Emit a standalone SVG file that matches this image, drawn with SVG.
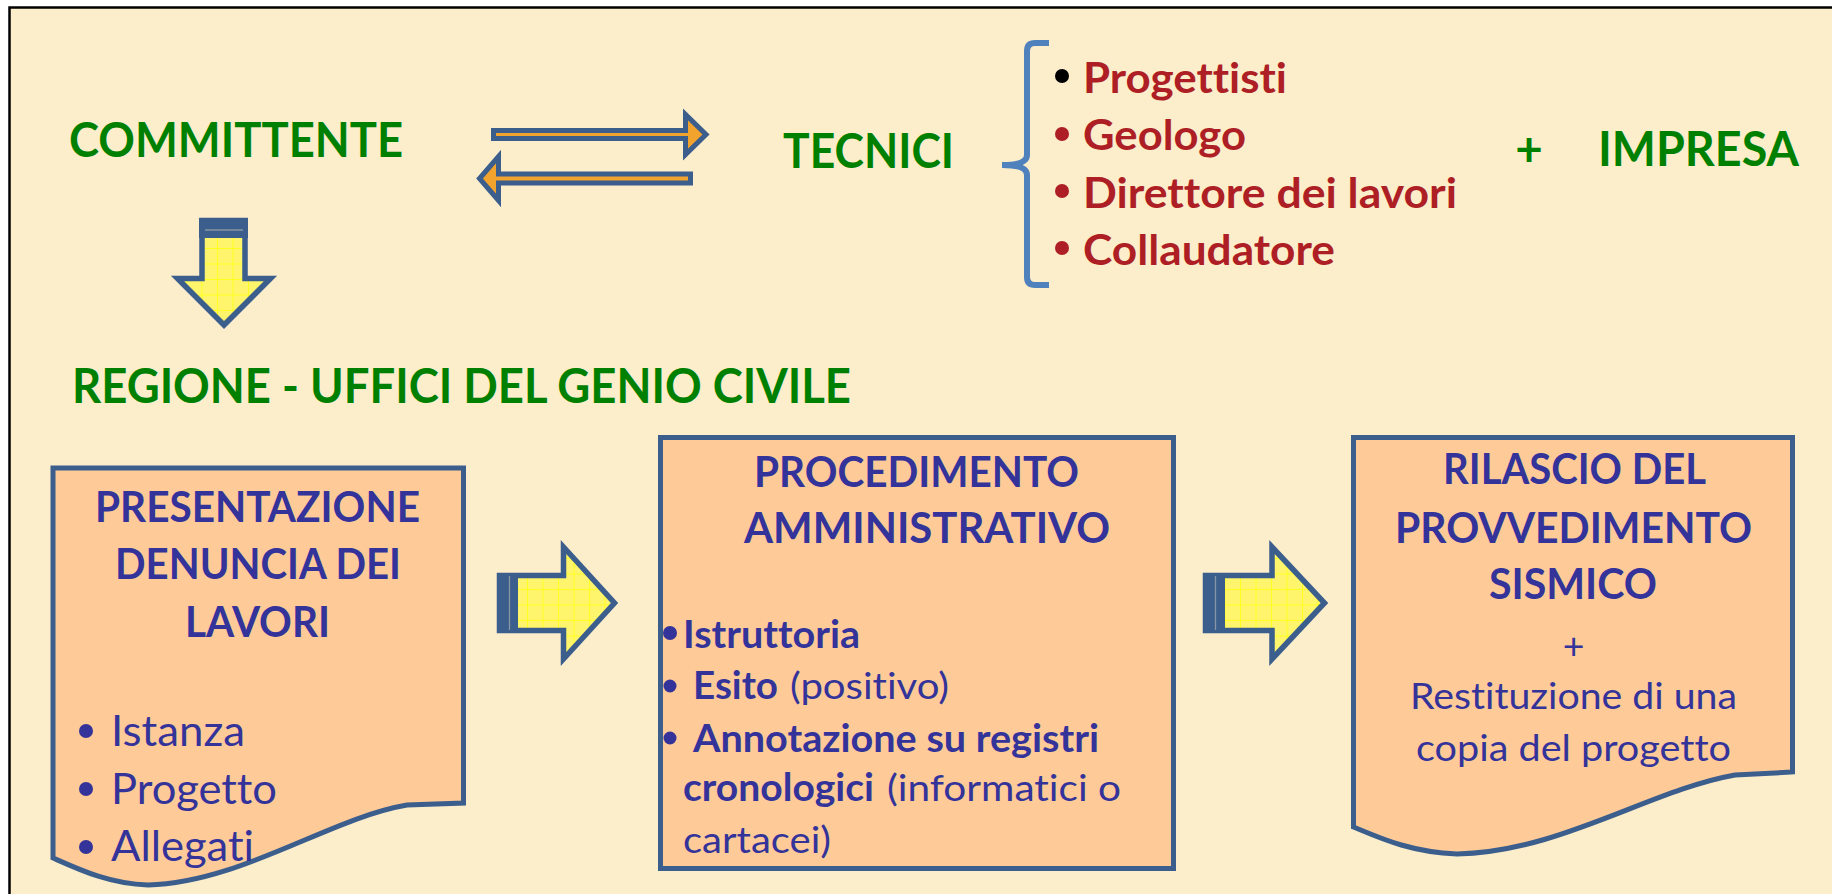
<svg xmlns="http://www.w3.org/2000/svg" width="1832" height="894" viewBox="0 0 1832 894">
<defs>
<style>
text{font-variant-ligatures:none;font-feature-settings:"liga" 0,"clig" 0,"dlig" 0}
.g{fill:#008000;font-family:Lato,"Liberation Sans",sans-serif;font-weight:700;font-size:47.5px}
.r{fill:#AD1F24;font-family:Lato,"Liberation Sans",sans-serif;font-weight:700;font-size:42px}
.h{fill:#333399;font-family:Lato,"Liberation Sans",sans-serif;font-weight:700;font-size:42px}
.n1{fill:#333399;font-family:Lato,"Liberation Sans",sans-serif;font-weight:400;font-size:42px}
.b2{fill:#333399;font-family:Lato,"Liberation Sans",sans-serif;font-weight:700;font-size:37.5px}
.n2{fill:#333399;font-family:Lato,"Liberation Sans",sans-serif;font-weight:400;font-size:37.5px}
.box{fill:#FECA98;stroke:#3B5E8C;stroke-width:5}
.dbl{fill:#F2A32E;stroke:#3B5E8C;stroke-width:5;stroke-linejoin:miter;stroke-miterlimit:10}
.yel{fill:url(#grid);stroke:#3B5E8C;stroke-width:5.5;stroke-linejoin:miter;stroke-miterlimit:10}
.stripe{fill:#3B5E8C}
.sline{stroke:#8796A2;stroke-width:1.3;fill:none}
.bd{fill:#333399}
</style>
<pattern id="grid" patternUnits="userSpaceOnUse" width="15.5" height="15.5">
<rect width="15.5" height="15.5" fill="#FFF56C"/>
<path d="M0,0.5H15.5M0.5,0V15.5" stroke="#FFFF1E" stroke-width="1"/>
</pattern>
</defs>
<rect x="0" y="0" width="1832" height="894" fill="#FFFFFF"/>
<rect x="9.5" y="7.5" width="1840" height="900" fill="#FCEDCB" stroke="#000000" stroke-width="2.5"/>

<g id="node-committente">
<text class="g" x="69" y="157" textLength="334" lengthAdjust="spacingAndGlyphs">COMMITTENTE</text>
</g>
<g id="node-tecnici">
<text class="g" x="783" y="168" textLength="171" lengthAdjust="spacingAndGlyphs">TECNICI</text>
</g>
<g id="node-tecnici-list">
<path d="M1049,43 H1035 Q1027,43 1027,51 V155 Q1027,165 1002,165 Q1027,165 1027,175 V277 Q1027,285 1035,285 H1049" fill="none" stroke="#4F81BD" stroke-width="6"/>
<circle cx="1062" cy="76" r="7" fill="#000000"/>
<circle cx="1062" cy="134" r="7" fill="#AD1F24"/>
<circle cx="1062" cy="191" r="7" fill="#AD1F24"/>
<circle cx="1062" cy="248" r="7" fill="#AD1F24"/>
<text class="r" x="1083" y="93" textLength="204" lengthAdjust="spacingAndGlyphs">Progettisti</text>
<text class="r" x="1083" y="150" textLength="163" lengthAdjust="spacingAndGlyphs">Geologo</text>
<text class="r" x="1083" y="208" textLength="374" lengthAdjust="spacingAndGlyphs">Direttore dei lavori</text>
<text class="r" x="1083" y="265" textLength="252" lengthAdjust="spacingAndGlyphs">Collaudatore</text>
</g>
<g id="node-impresa">
<text class="g" x="1529" y="166" text-anchor="middle">+</text>
<text class="g" x="1598" y="166" textLength="201" lengthAdjust="spacingAndGlyphs">IMPRESA</text>
</g>
<g id="node-regione">
<text class="g" x="72" y="403" textLength="779" lengthAdjust="spacingAndGlyphs">REGIONE - UFFICI DEL GENIO CIVILE</text>
</g>

<g id="node-presentazione">
<path class="box" d="M53,468 H463.5 V803 L407,805 C330,818 240,883 148,885 C110,884 80,870 53,858 Z"/>
<text class="h" x="95" y="522" textLength="325" lengthAdjust="spacingAndGlyphs">PRESENTAZIONE</text>
<text class="h" x="115" y="579" textLength="286" lengthAdjust="spacingAndGlyphs">DENUNCIA DEI</text>
<text class="h" x="185" y="637" textLength="145" lengthAdjust="spacingAndGlyphs">LAVORI</text>
<circle class="bd" cx="86" cy="731" r="7"/>
<circle class="bd" cx="86" cy="789" r="7"/>
<circle class="bd" cx="86" cy="847" r="7"/>
<text class="n1" x="111" y="746" textLength="134" lengthAdjust="spacingAndGlyphs">Istanza</text>
<text class="n1" x="111" y="804" textLength="166" lengthAdjust="spacingAndGlyphs">Progetto</text>
<text class="n1" x="111" y="861" textLength="143" lengthAdjust="spacingAndGlyphs">Allegati</text>
</g>

<g id="node-procedimento">
<rect class="box" x="660.5" y="437.5" width="513" height="431"/>
<text class="h" x="754" y="487" textLength="325" lengthAdjust="spacingAndGlyphs">PROCEDIMENTO</text>
<text class="h" x="744" y="543" textLength="366" lengthAdjust="spacingAndGlyphs">AMMINISTRATIVO</text>
<circle class="bd" cx="670" cy="633" r="7"/>
<circle class="bd" cx="670" cy="686" r="6.5"/>
<circle class="bd" cx="670" cy="738" r="6.5"/>
<text class="b2" x="683" y="648" textLength="177" lengthAdjust="spacingAndGlyphs">Istruttoria</text>
<text class="b2" x="693" y="699" textLength="85" lengthAdjust="spacingAndGlyphs">Esito</text>
<text class="n2" x="790" y="699" textLength="159" lengthAdjust="spacingAndGlyphs">(positivo)</text>
<text class="b2" x="693" y="752" textLength="406" lengthAdjust="spacingAndGlyphs">Annotazione su registri</text>
<text class="b2" x="683" y="801" textLength="191" lengthAdjust="spacingAndGlyphs">cronologici</text>
<text class="n2" x="887" y="801" textLength="234" lengthAdjust="spacingAndGlyphs">(informatici o</text>
<text class="n2" x="683" y="853" textLength="148" lengthAdjust="spacingAndGlyphs">cartacei)</text>
</g>

<g id="node-rilascio">
<path class="box" d="M1353.5,437.5 H1792.5 V772 L1735,775 C1650,790 1560,852 1457,854 C1410,852 1380,838 1353.5,827 Z"/>
<text class="h" x="1443" y="484" textLength="263" lengthAdjust="spacingAndGlyphs">RILASCIO DEL</text>
<text class="h" x="1395" y="543" textLength="357" lengthAdjust="spacingAndGlyphs">PROVVEDIMENTO</text>
<text class="h" x="1489" y="599" textLength="168" lengthAdjust="spacingAndGlyphs">SISMICO</text>
<text class="n2" x="1573.5" y="659" text-anchor="middle">+</text>
<text class="n2" x="1410" y="709" textLength="327" lengthAdjust="spacingAndGlyphs">Restituzione di una</text>
<text class="n2" x="1416" y="761" textLength="315" lengthAdjust="spacingAndGlyphs">copia del progetto</text>
</g>

<g id="connectors">
<path id="arrow-to-tecnici" class="dbl" d="M493.5,130.5 H685.5 V114.5 L706,134.5 L685.5,154.5 V138.5 H493.5 Z"/>
<path id="arrow-to-committente" class="dbl" d="M690.5,174 H498.5 V156.5 L479.5,178.5 L498.5,200.5 V183 H690.5 Z"/>
<g id="arrow-down">
<path class="yel" d="M202,220.5 H245 V278.5 H270.5 L224,325 L177.5,278.5 H202 Z"/>
<rect class="stripe" x="199" y="218" width="49" height="20"/>
<path class="sline" d="M205,230 H243"/>
</g>
<g id="arrow-1-2">
<path class="yel" d="M499.5,575.5 H563.5 V547 L614.5,603 L563.5,659 V630.5 H499.5 Z"/>
<rect class="stripe" x="497" y="573" width="21" height="60"/>
<path class="sline" d="M509.5,576 V630"/>
</g>
<g id="arrow-2-3">
<path class="yel" d="M1205.5,575.5 H1272 V547 L1324.5,603 L1272,659 V630.5 H1205.5 Z"/>
<rect class="stripe" x="1203" y="573" width="22" height="60"/>
<path class="sline" d="M1215.5,576 V630"/>
</g>
</g>
</svg>
